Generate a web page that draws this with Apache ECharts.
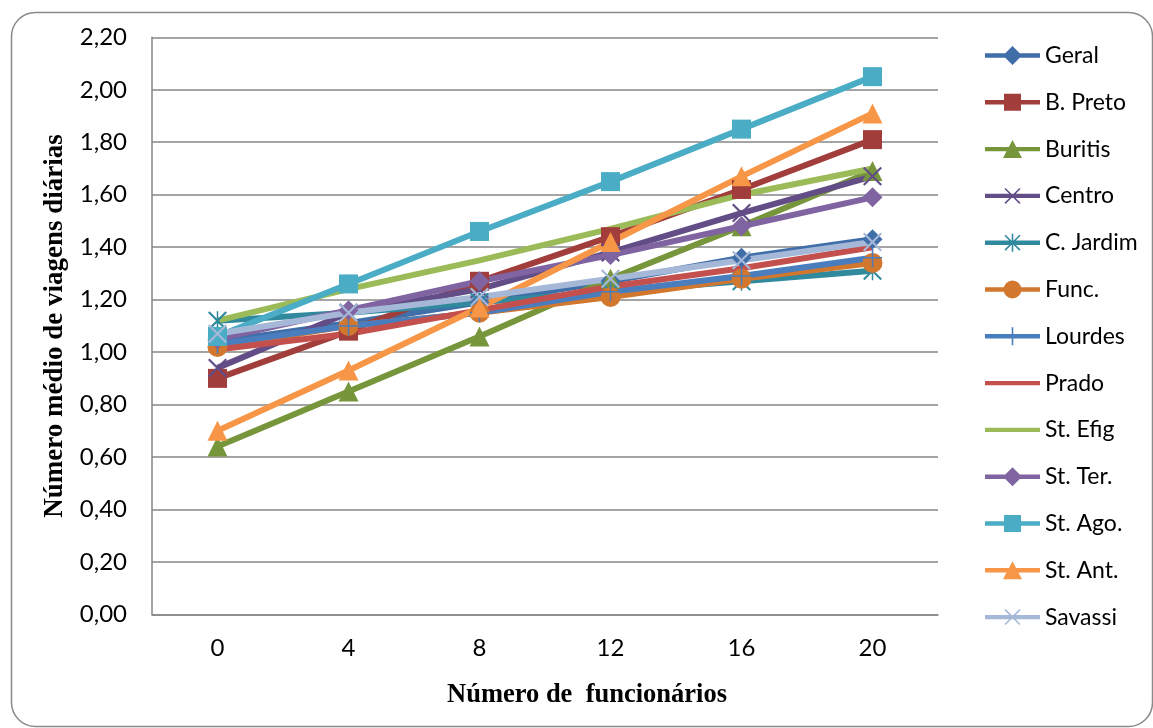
<!DOCTYPE html>
<html>
<head>
<meta charset="utf-8">
<script src="https://cdn.jsdelivr.net/npm/echarts@6/dist/echarts.min.js"></script>
<style>
  html, body { margin: 0; padding: 0; background: #fff; }
  #chart { width: 1153px; height: 728px; }
</style>
</head>
<body>
<div id="chart"></div>
<script>
// Número de funcionários (categorias do eixo X)
const categories = ['0', '4', '8', '12', '16', '20'];

// Número médio de viagens diárias por bairro
const geral    = [1.04, 1.11, 1.19, 1.27, 1.36, 1.43];
const bPreto   = [0.90, 1.08, 1.27, 1.44, 1.62, 1.81];
const buritis  = [0.64, 0.85, 1.06, 1.28, 1.48, 1.69];
const centro   = [0.94, 1.15, 1.24, 1.38, 1.53, 1.67];
const cJardim  = [1.12, 1.15, 1.19, 1.23, 1.27, 1.31];
const func     = [1.02, 1.10, 1.15, 1.21, 1.28, 1.34];
const lourdes  = [1.03, 1.10, 1.15, 1.23, 1.29, 1.36];
const prado    = [1.01, 1.07, 1.16, 1.25, 1.32, 1.40];
const stEfig   = [1.12, 1.24, 1.35, 1.47, 1.60, 1.70];
const stTer    = [1.05, 1.16, 1.27, 1.37, 1.48, 1.59];
const stAgo    = [1.06, 1.26, 1.46, 1.65, 1.85, 2.05];
const stAnt    = [0.70, 0.93, 1.17, 1.42, 1.67, 1.91];
const savassi  = [1.07, 1.15, 1.21, 1.28, 1.35, 1.42];

// Rótulos do eixo Y
const yTickLabels = ['0,00', '0,20', '0,40', '0,60', '0,80', '1,00', '1,20', '1,40', '1,60', '1,80', '2,00', '2,20'];

// Marcadores desenhados como caminhos preenchidos
const SYM_X = 'path://M0,1.6L1.6,0L20,18.4L18.4,20Z M18.4,0L20,1.6L1.6,20L0,18.4Z';
const SYM_STAR = 'path://M0,1.6L1.6,0L20,18.4L18.4,20Z M18.4,0L20,1.6L1.6,20L0,18.4Z M9.2,0L10.8,0L10.8,20L9.2,20Z';
const SYM_PLUS = 'path://M9.2,0L10.8,0L10.8,20L9.2,20Z M0,9.2L20,9.2L20,10.8L0,10.8Z';

// Ícones da legenda: traço da linha + marcador, numa caixa de 55 x 20
const LG_BOX = 'M0,0L0.01,0L0.01,0.01Z M55,20L54.99,20L54.99,19.99Z ';
const LG_LINE = 'M0,7.8L55,7.8L55,12.2L0,12.2Z ';
const LG_MARK = {
  diamond:  'M27.5,0.5L37,10L27.5,19.5L18,10Z',
  rect:     'M19,1.5L36,1.5L36,18.5L19,18.5Z',
  triangle: 'M27.5,1L37,19L18,19Z',
  circle:   'M18.5,10A9,9 0 1,1 36.5,10A9,9 0 1,1 18.5,10Z',
  x:        'M20.6,2L35.5,16.9L34.4,18L19.5,3.1Z M34.4,2L35.5,3.1L20.6,18L19.5,16.9Z',
  star:     'M20.6,2L35.5,16.9L34.4,18L19.5,3.1Z M34.4,2L35.5,3.1L20.6,18L19.5,16.9Z M26.7,1L28.3,1L28.3,19L26.7,19Z',
  plus:     'M26.7,1L28.3,1L28.3,19L26.7,19Z',
  none:     ''
};

const seriesDefs = [
  { name: 'Geral',     data: geral,   color: '#3F6EA8', symbol: 'diamond',  size: 20, mark: 'diamond' },
  { name: 'B. Preto',  data: bPreto,  color: '#A13D3A', symbol: 'rect',     size: 19, mark: 'rect' },
  { name: 'Buritis',   data: buritis, color: '#77963B', symbol: 'triangle', size: 20, mark: 'triangle' },
  { name: 'Centro',    data: centro,  color: '#634D86', symbol: SYM_X,      size: 19, mark: 'x' },
  { name: 'C. Jardim', data: cJardim, color: '#31899E', symbol: SYM_STAR,   size: 19, mark: 'star' },
  { name: 'Func.',     data: func,    color: '#D2772E', symbol: 'circle',   size: 20, mark: 'circle' },
  { name: 'Lourdes',   data: lourdes, color: '#4A7DBE', symbol: SYM_PLUS,   size: 19, mark: 'plus' },
  { name: 'Prado',     data: prado,   color: '#C4504D', symbol: 'none',     size: 0,  mark: 'none' },
  { name: 'St. Efig',  data: stEfig,  color: '#9BBB59', symbol: 'none',     size: 0,  mark: 'none' },
  { name: 'St. Ter.',  data: stTer,   color: '#8064A2', symbol: 'diamond',  size: 20, mark: 'diamond' },
  { name: 'St. Ago.',  data: stAgo,   color: '#4BACC6', symbol: 'rect',     size: 19, mark: 'rect' },
  { name: 'St. Ant.',  data: stAnt,   color: '#F79646', symbol: 'triangle', size: 20, mark: 'triangle' },
  { name: 'Savassi',   data: savassi, color: '#A6B8D8', symbol: SYM_X,      size: 19, mark: 'x' }
];

const chart = echarts.init(document.getElementById('chart'), null, { renderer: 'canvas' });

const option = {
  animation: false,
  backgroundColor: '#ffffff',
  graphic: [{
    type: 'rect',
    left: 9, top: 10,
    shape: { width: 1141, height: 714, r: 24 },
    style: { fill: 'none', stroke: '#8a8a8a', lineWidth: 1.5 },
    silent: true, z: -1
  }],
  grid: { left: 152, right: 215, top: 37.3, bottom: 113.5, containLabel: false },
  legend: {
    orient: 'vertical',
    left: 980, top: 39,
    itemWidth: 55, itemHeight: 20, itemGap: 23.8,
    itemStyle: { borderWidth: 0 },
    textStyle: { fontFamily: 'Lato', fontSize: 23, color: '#000', lineHeight: 20 },
    data: seriesDefs.map(s => ({
      name: s.name,
      icon: 'path://' + LG_BOX + LG_LINE + LG_MARK[s.mark]
    }))
  },
  xAxis: {
    type: 'category',
    data: categories,
    boundaryGap: true,
    axisLine: { lineStyle: { color: '#868686', width: 1.5 } },
    axisTick: { show: false },
    axisLabel: { fontFamily: 'Lato', fontSize: 24, color: '#000', margin: 22 },
    name: 'Número de  funcionários',
    nameLocation: 'middle',
    nameGap: 67,
    nameTextStyle: {
      fontFamily: 'Liberation Serif', fontWeight: 'bold', fontSize: 26.5, color: '#000',
      padding: [0, 0, 0, 84]
    }
  },
  yAxis: {
    type: 'value',
    min: 0, max: 2.2, interval: 0.2,
    axisLine: { show: true, lineStyle: { color: '#868686', width: 1.5 } },
    axisTick: { show: false },
    splitLine: { lineStyle: { color: '#868686', width: 1.5 } },
    axisLabel: {
      fontFamily: 'Lato', fontSize: 24, color: '#000', margin: 25,
      formatter: v => yTickLabels[Math.round(v / 0.2)]
    },
    name: 'Número médio de viagens diárias',
    nameLocation: 'middle',
    nameGap: 72,
    nameTextStyle: { fontFamily: 'Liberation Serif', fontWeight: 'bold', fontSize: 27, color: '#000' }
  },
  series: seriesDefs.map(s => ({
    name: s.name,
    type: 'line',
    data: s.data,
    symbol: s.symbol,
    symbolSize: s.size,
    showSymbol: s.symbol !== 'none',
    lineStyle: { color: s.color, width: 6 },
    itemStyle: { color: s.color, borderWidth: 0 },
    emphasis: { disabled: true }
  }))
};

chart.setOption(option);
</script>
</body>
</html>
